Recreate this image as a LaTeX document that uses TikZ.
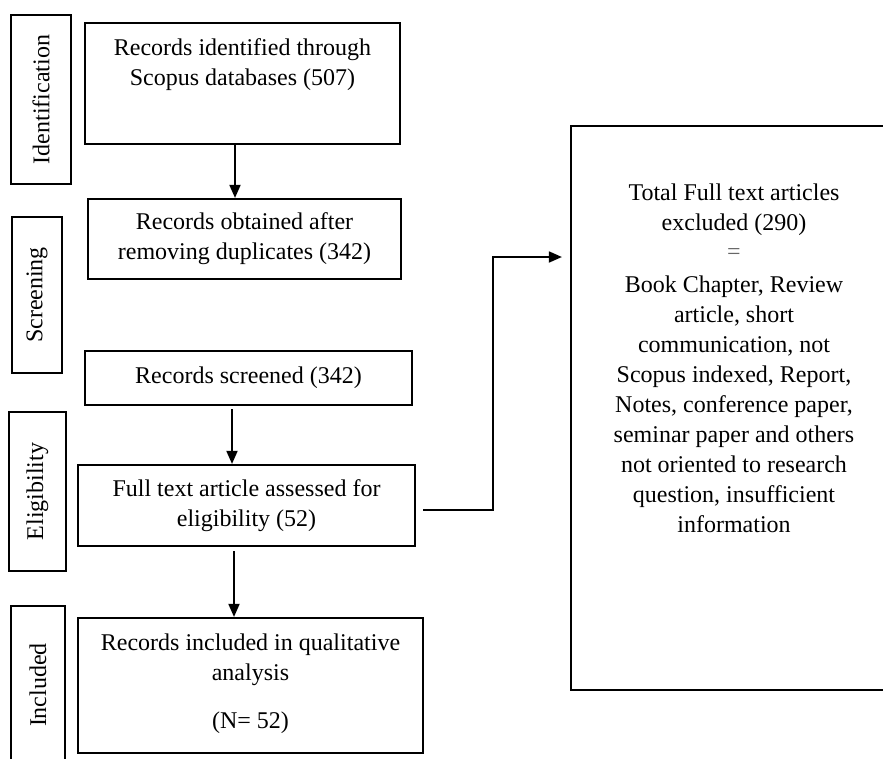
\documentclass[tikz,border=0pt]{standalone}
\usepackage{fontspec}
\setmainfont{Liberation Serif}
\usetikzlibrary{arrows.meta,calc}
\tikzset{
  box/.style={draw, line width=2.2pt, inner sep=0pt, align=center, font=\fontsize{24}{30}\selectfont},
  sidebox/.style={draw, line width=2.2pt, inner sep=0pt, rotate=90, font=\fontsize{24}{30}\selectfont},
  arr/.style={line width=1.8pt, -{Triangle[length=13pt,width=11pt]}}
}
\begin{document}
\begin{tikzpicture}[x=1pt,y=-1pt]
\useasboundingbox (0,0) rectangle (883,758);
\clip (0,0) rectangle (883,758);
% side labels
\node[sidebox, minimum width=169pt, minimum height=60pt] (s1) at (41,99.5) {Identification};
\node[sidebox, minimum width=156pt, minimum height=50pt] (s2) at (37,295) {Screening};
\node[sidebox, minimum width=159pt, minimum height=57pt] (s3) at (37.5,491.5) {Eligibility};
\node[sidebox, minimum width=158pt, minimum height=54pt] (s4) at (38,685) {Included};
% main boxes
\node[box, minimum width=315pt, minimum height=121pt] (b1) at (242.5,83.5)
  {\parbox[c][121pt][t]{315pt}{\centering\rule{0pt}{32pt}Records identified through\\Scopus databases (507)}};
\node[box, minimum width=313pt, minimum height=80pt] (b2) at (244.5,239)
  {Records obtained after\\removing duplicates (342)};
\node[box, minimum width=327pt, minimum height=54pt] (b3) at (248.5,378)
  {Records screened (342)};
\node[box, minimum width=337pt, minimum height=81pt] (b4) at (246.5,505.5)
  {Full text article assessed for\\eligibility (52)};
\node[box, minimum width=345pt, minimum height=135pt] (b5) at (250.5,685.5)
  {\parbox[c][135pt][t]{345pt}{\centering\rule{0pt}{32pt}Records included in qualitative\\analysis\\[18pt](N= 52)}};
\node[box, minimum width=326pt, minimum height=564pt] (ex) at (734,408)
  {\parbox[c][564pt][t]{326pt}{\centering\rule{0pt}{74pt}Total Full text articles\\excluded (290)\\[-1pt]{\color{black!60}=}\\[3pt]Book Chapter, Review\\article, short\\communication, not\\Scopus indexed, Report,\\Notes, conference paper,\\seminar paper and others\\not oriented to research\\question, insufficient\\information}};
% connectors
\coordinate (ax1) at (235,0);
\coordinate (ax2) at (232,0);
\coordinate (ax3) at (234,0);
\coordinate (bend) at (493,257);
\draw[arr] (b1.south -| ax1) -- (b2.north -| ax1);
\draw[arr, shorten <=3pt] (b3.south -| ax2) -- (b4.north -| ax2);
\draw[arr, shorten <=4pt] (b4.south -| ax3) -- (b5.north -| ax3);
\draw[arr, shorten >=8pt] ([xshift=7pt,yshift=-4.5pt]b4.east) -| (bend) -- (ex.west |- bend);
\end{tikzpicture}
\end{document}
